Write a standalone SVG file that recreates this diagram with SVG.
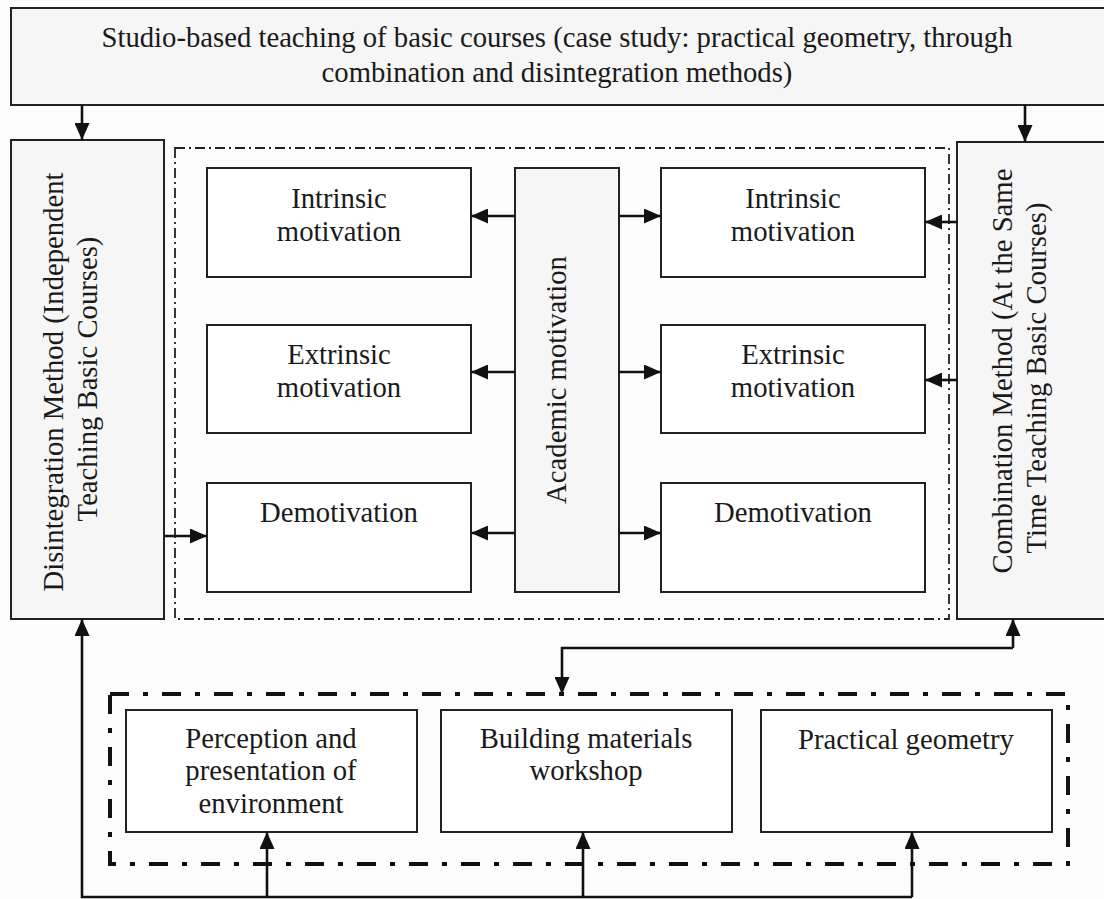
<svg xmlns="http://www.w3.org/2000/svg" width="1104" height="899" viewBox="0 0 1104 899">
<defs>
<style>
.t{font-family:"Liberation Serif","Times New Roman",serif;font-size:28.7px;fill:#1a1a1a;text-anchor:middle}
.g{fill:#f6f6f6;stroke:#222;stroke-width:2}
.w{fill:#ffffff;stroke:#222;stroke-width:2}
.c{fill:none;stroke:#111;stroke-width:2.6}
.d1{fill:none;stroke:#222;stroke-width:1.8;stroke-dasharray:10,4,2,4}
.d2{fill:none;stroke:#111;stroke-width:4;stroke-dasharray:19,14,5,14}
</style>
<marker id="ah" viewBox="0 0 17 15" refX="17" refY="7.5" markerWidth="17" markerHeight="15" markerUnits="userSpaceOnUse" orient="auto">
<path d="M0,0 L17,7.5 L0,15 Z" fill="#111"/>
</marker>
</defs>
<rect width="1104" height="899" fill="#fcfcfc"/>

<g id="top">
<rect class="g" x="11" y="8" width="1100" height="97"/>
<text class="t" x="557" y="47">Studio-based teaching of basic courses (case study: practical geometry, through</text>
<text class="t" x="557" y="82">combination and disintegration methods)</text>
</g>

<g id="disintegration">
<rect class="g" x="11" y="140" width="153" height="479"/>
<text class="t" transform="translate(63,382) rotate(-90)">Disintegration Method (Independent</text>
<text class="t" transform="translate(97,379) rotate(-90)">Teaching Basic Courses)</text>
</g>

<g id="combination">
<rect class="g" x="957" y="142" width="160" height="477"/>
<text class="t" transform="translate(1012,371) rotate(-90)">Combination Method (At the Same</text>
<text class="t" transform="translate(1046,378) rotate(-90)">Time Teaching Basic Courses)</text>
</g>

<g id="motivation-frame">
<rect class="d1" x="175" y="148" width="774" height="471"/>
</g>

<g id="academic">
<rect class="g" x="515" y="168" width="104" height="424"/>
<text class="t" transform="translate(566,380) rotate(-90)">Academic motivation</text>
</g>

<g id="intrinsic-left">
<rect class="w" x="207" y="168" width="264" height="109"/>
<text class="t" x="339" y="208">Intrinsic</text>
<text class="t" x="339" y="241">motivation</text>
</g>
<g id="extrinsic-left">
<rect class="w" x="207" y="325" width="264" height="108"/>
<text class="t" x="339" y="364">Extrinsic</text>
<text class="t" x="339" y="397">motivation</text>
</g>
<g id="demotivation-left">
<rect class="w" x="207" y="483" width="264" height="109"/>
<text class="t" x="339" y="522">Demotivation</text>
</g>

<g id="intrinsic-right">
<rect class="w" x="661" y="168" width="264" height="109"/>
<text class="t" x="793" y="208">Intrinsic</text>
<text class="t" x="793" y="241">motivation</text>
</g>
<g id="extrinsic-right">
<rect class="w" x="661" y="325" width="264" height="108"/>
<text class="t" x="793" y="364">Extrinsic</text>
<text class="t" x="793" y="397">motivation</text>
</g>
<g id="demotivation-right">
<rect class="w" x="661" y="483" width="264" height="109"/>
<text class="t" x="793" y="522">Demotivation</text>
</g>

<g id="courses-frame">
<rect class="d2" x="110" y="694" width="958" height="170"/>
</g>

<g id="perception">
<rect class="w" x="126" y="710" width="291" height="122"/>
<text class="t" x="271" y="748">Perception and</text>
<text class="t" x="271" y="780">presentation of</text>
<text class="t" x="271" y="813">environment</text>
</g>
<g id="materials">
<rect class="w" x="441" y="710" width="291" height="122"/>
<text class="t" x="586" y="748">Building materials</text>
<text class="t" x="586" y="780">workshop</text>
</g>
<g id="geometry">
<rect class="w" x="761" y="710" width="291" height="122"/>
<text class="t" x="906" y="749">Practical geometry</text>
</g>

<g id="connectors">
<line class="c" x1="82" y1="105" x2="82" y2="140" marker-end="url(#ah)"/>
<line class="c" x1="1025" y1="105" x2="1025" y2="142" marker-end="url(#ah)"/>
<line class="c" x1="515" y1="216" x2="471" y2="216" marker-end="url(#ah)"/>
<line class="c" x1="515" y1="372" x2="471" y2="372" marker-end="url(#ah)"/>
<line class="c" x1="515" y1="533" x2="471" y2="533" marker-end="url(#ah)"/>
<line class="c" x1="619" y1="216" x2="661" y2="216" marker-end="url(#ah)"/>
<line class="c" x1="619" y1="372" x2="661" y2="372" marker-end="url(#ah)"/>
<line class="c" x1="619" y1="533" x2="661" y2="533" marker-end="url(#ah)"/>
<line class="c" x1="957" y1="222" x2="925" y2="222" marker-end="url(#ah)"/>
<line class="c" x1="957" y1="380" x2="925" y2="380" marker-end="url(#ah)"/>
<line class="c" x1="164" y1="536" x2="207" y2="536" marker-end="url(#ah)"/>
<line class="c" x1="1013" y1="648" x2="1013" y2="619" marker-end="url(#ah)"/>
<polyline class="c" points="1013,648 562,648 562,694" marker-end="url(#ah)"/>
<polyline class="c" points="912,897 82,897 82,619" marker-end="url(#ah)"/>
<line class="c" x1="267" y1="897" x2="267" y2="832" marker-end="url(#ah)"/>
<line class="c" x1="583" y1="897" x2="583" y2="832" marker-end="url(#ah)"/>
<line class="c" x1="912" y1="897" x2="912" y2="832" marker-end="url(#ah)"/>
</g>
</svg>
